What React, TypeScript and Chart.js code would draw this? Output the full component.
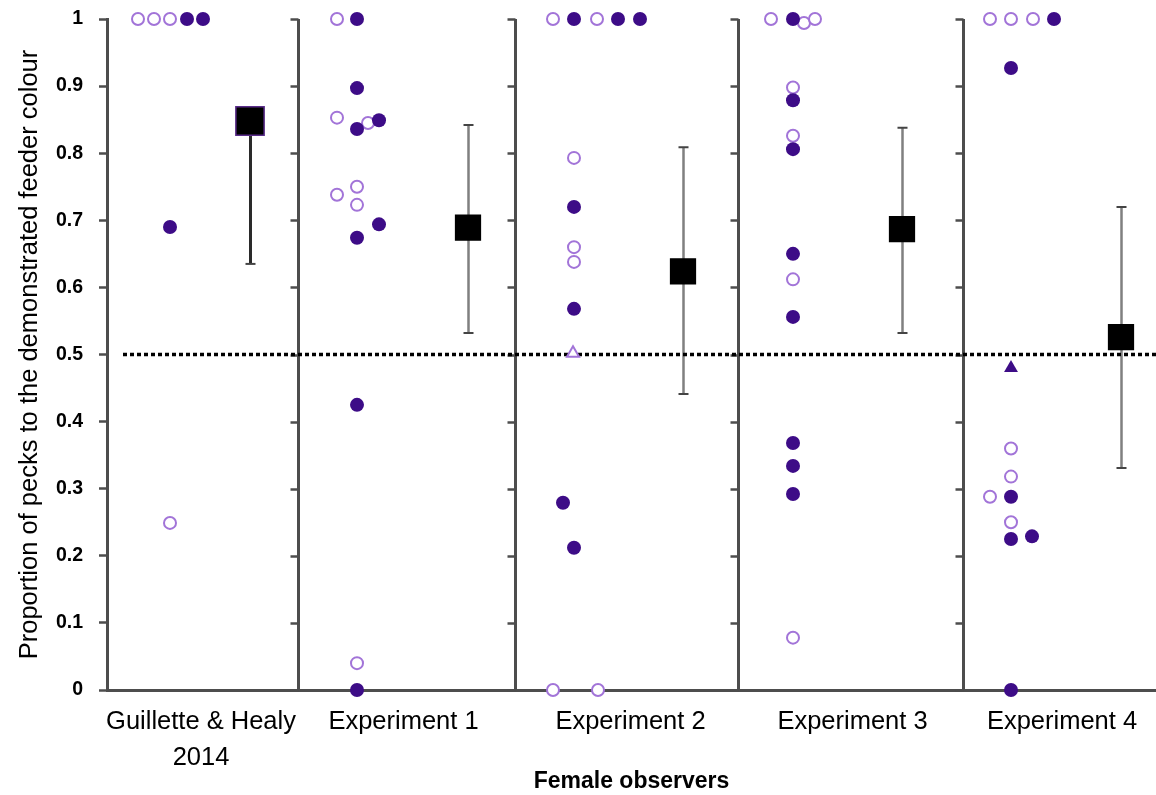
import React, { useEffect, useRef } from "react";
import { Chart, registerables } from "chart.js";

Chart.register(...registerables);

// ---- Data (x in layout units, y = proportion) ----
const groupLabels: (string | string[])[] = [
  ["Guillette & Healy", "2014"],
  "Experiment 1",
  "Experiment 2",
  "Experiment 3",
  "Experiment 4",
];
const groupLabelX = [0.94, 2.965, 5.235, 7.455, 9.55];
const dividerX = [1.91, 4.08, 6.31, 8.56];
const xMax = 10.49;
const yTickLabels = ["0", "0.1", "0.2", "0.3", "0.4", "0.5", "0.6", "0.7", "0.8", "0.9", "1"];

const openCircleX = [
  0.31, 0.47, 0.63, 0.63,
  2.3, 2.3, 2.61, 2.3, 2.5, 2.5, 2.5,
  4.46, 4.9, 4.67, 4.67, 4.67, 4.46, 4.91,
  6.64, 6.97, 7.08, 6.86, 6.86, 6.86, 6.86,
  8.83, 9.04, 9.26, 9.04, 9.04, 8.83, 9.04,
];
const openCircleY = [
  1, 1, 1, 0.249,
  1, 0.853, 0.845, 0.738, 0.75, 0.723, 0.04,
  1, 1, 0.793, 0.66, 0.638, 0, 0,
  1, 0.994, 1, 0.898, 0.826, 0.612, 0.078,
  1, 1, 1, 0.36, 0.318, 0.288, 0.25,
];
const filledCircleX = [
  0.8, 0.96, 0.63,
  2.5, 2.5, 2.5, 2.72, 2.72, 2.5, 2.5, 2.5,
  4.67, 5.11, 5.33, 4.67, 4.67, 4.56, 4.67,
  6.86, 6.86, 6.86, 6.86, 6.86, 6.86, 6.86, 6.86,
  9.47, 9.04, 9.04, 9.04, 9.25, 9.04,
];
const filledCircleY = [
  1, 1, 0.69,
  1, 0.897, 0.836, 0.849, 0.694, 0.674, 0.425, 0,
  1, 1, 1, 0.72, 0.568, 0.279, 0.212,
  1, 0.879, 0.806, 0.65, 0.556, 0.368, 0.334, 0.292,
  1, 0.927, 0.288, 0.225, 0.229, 0,
];
const openTriangleX = [4.66];
const openTriangleY = [0.502];
const filledTriangleX = [9.04];
const filledTriangleY = [0.48];

const meanX = [1.43, 3.61, 5.76, 7.95, 10.14];
const meanY = [0.848, 0.689, 0.624, 0.687, 0.526];
const errLow = [0.635, 0.532, 0.441, 0.532, 0.331];
const errHigh: (number | null)[] = [null, 0.842, 0.809, 0.838, 0.72];

const chanceLevel = 0.5;
const chanceStartX = 0.16;

// ---- Styles ----
const OPEN_COLOR = "#a274d8";
const FILLED_COLOR = "#3d0c87";
const AXIS_COLOR = "#4d4d4d";
const FONT = "'Liberation Sans', Arial, sans-serif";

const pts = (xs: number[], ys: number[]) => xs.map((x, i) => ({ x, y: ys[i] }));

const overlayPlugin = {
  id: "overlay",
  beforeDatasetsDraw(chart: any) {
    const { ctx } = chart;
    const x = chart.scales.x;
    const y = chart.scales.y;
    ctx.save();
    const top = y.getPixelForValue(1);
    const bottom = y.getPixelForValue(0);
    // group dividers with ticks
    dividerX.forEach((d) => {
      const px = Math.round(x.getPixelForValue(d)) + 0.5;
      ctx.strokeStyle = AXIS_COLOR;
      ctx.lineWidth = 3;
      ctx.beginPath();
      ctx.moveTo(px, top);
      ctx.lineTo(px, bottom);
      ctx.stroke();
      ctx.lineWidth = 2.5;
      y.ticks.forEach((t: any) => {
        const py = Math.round(y.getPixelForValue(t.value)) + 0.5;
        ctx.beginPath();
        ctx.moveTo(px - 8, py);
        ctx.lineTo(px, py);
        ctx.stroke();
      });
    });
    // error bars
    meanX.forEach((mx, i) => {
      const px = Math.round(x.getPixelForValue(mx)) + 0.5;
      const pm = y.getPixelForValue(meanY[i]);
      const pl = y.getPixelForValue(errLow[i]);
      const hi = errHigh[i];
      const first = i === 0;
      ctx.strokeStyle = first ? "#2a2a2a" : "#808080";
      ctx.lineWidth = first ? 3 : 2.5;
      ctx.beginPath();
      ctx.moveTo(px, pm);
      ctx.lineTo(px, pl);
      if (hi !== null) {
        ctx.moveTo(px, pm);
        ctx.lineTo(px, y.getPixelForValue(hi));
      }
      ctx.stroke();
      ctx.strokeStyle = "#444";
      ctx.lineWidth = 2;
      const capW = 5;
      ctx.beginPath();
      ctx.moveTo(px - capW, pl);
      ctx.lineTo(px + capW, pl);
      if (hi !== null) {
        const ph = y.getPixelForValue(hi);
        ctx.moveTo(px - capW, ph);
        ctx.lineTo(px + capW, ph);
      }
      ctx.stroke();
    });
    ctx.restore();
  },
};

export default function App() {
  const canvasRef = useRef<HTMLCanvasElement | null>(null);

  useEffect(() => {
    document.body.style.margin = "0";
    const canvas = canvasRef.current;
    if (!canvas) return;
    const chart = new Chart(canvas, {
      type: "scatter",
      data: {
        datasets: [
          {
            label: "mean",
            data: pts(meanX, meanY),
            pointStyle: "rect",
            pointRadius: [20, 17.5, 17.5, 17.5, 17.5],
            pointBackgroundColor: "#000",
            pointBorderColor: ["#5a2d8a", "#000", "#000", "#000", "#000"],
            pointBorderWidth: 1.5,
            showLine: false,
          },
          {
            label: "filled",
            data: pts(filledCircleX, filledCircleY),
            pointStyle: "circle",
            pointRadius: 7,
            pointBackgroundColor: FILLED_COLOR,
            pointBorderColor: FILLED_COLOR,
            pointBorderWidth: 0,
            showLine: false,
          },
          {
            label: "open",
            data: pts(openCircleX, openCircleY),
            pointStyle: "circle",
            pointRadius: 6,
            pointBackgroundColor: "#ffffff",
            pointBorderColor: OPEN_COLOR,
            pointBorderWidth: 2,
            showLine: false,
          },
          {
            label: "openTri",
            data: pts(openTriangleX, openTriangleY),
            pointStyle: "triangle",
            pointRadius: 7,
            pointBackgroundColor: "#ffffff",
            pointBorderColor: OPEN_COLOR,
            pointBorderWidth: 2,
            showLine: false,
          },
          {
            label: "filledTri",
            data: pts(filledTriangleX, filledTriangleY),
            pointStyle: "triangle",
            pointRadius: 8,
            pointBackgroundColor: FILLED_COLOR,
            pointBorderColor: FILLED_COLOR,
            pointBorderWidth: 0,
            showLine: false,
          },
          {
            label: "chance",
            type: "line",
            data: [
              { x: chanceStartX, y: chanceLevel },
              { x: xMax, y: chanceLevel },
            ],
            borderColor: "#000",
            borderWidth: 3.5,
            borderDash: [4, 3],
            pointRadius: 0,
            showLine: true,
          } as any,
        ],
      },
      options: {
        animation: false,
        responsive: false,
        maintainAspectRatio: false,
        layout: { autoPadding: false, padding: { top: 19, right: 0, left: 0, bottom: 0 } },
        plugins: {
          legend: { display: false },
          tooltip: { enabled: false },
        },
        elements: { point: { hoverRadius: 0 } },
        datasets: { scatter: { clip: false } as any, line: { clip: false } as any },
        scales: {
          x: {
            type: "linear",
            min: 0,
            max: xMax,
            afterFit: (s: any) => {
              s.height = 105;
              s.paddingLeft = 0;
              s.paddingRight = 0;
            },
            afterBuildTicks: (s: any) => {
              s.ticks = groupLabelX.map((v) => ({ value: v }));
            },
            grid: { display: false, drawTicks: false },
            border: { display: true, color: AXIS_COLOR, width: 3 },
            ticks: {
              autoSkip: false,
              maxRotation: 0,
              minRotation: 0,
              padding: 14,
              color: "#000",
              font: { family: FONT, size: 25.5, lineHeight: 1.42 },
              callback: (_v: any, i: number) => groupLabels[i] as any,
            },
            title: {
              display: true,
              text: "Female observers",
              color: "#000",
              font: { family: FONT, size: 23, weight: "bold" },
              padding: { top: 0, bottom: 0 },
            },
          },
          y: {
            type: "linear",
            min: 0,
            max: 1,
            afterFit: (s: any) => {
              s.width = 107;
              s.paddingTop = 0;
              s.paddingBottom = 0;
            },
            grid: {
              display: true,
              drawOnChartArea: false,
              drawTicks: true,
              tickLength: 8,
              tickColor: AXIS_COLOR,
              tickWidth: 2.5,
            },
            border: { display: true, color: AXIS_COLOR, width: 3 },
            ticks: {
              stepSize: 0.1,
              padding: 16,
              color: "#000",
              font: { family: FONT, size: 19.5, weight: "bold" },
              callback: (_v: any, i: number) => yTickLabels[i],
            },
            title: {
              display: true,
              text: "Proportion of pecks to the demonstrated feeder colour",
              color: "#000",
              font: { family: FONT, size: 25.5 },
              padding: { top: 15, bottom: 0 },
            },
          },
        },
      },
      plugins: [overlayPlugin],
    } as any);
    return () => chart.destroy();
  }, []);

  return (
    <div style={{ width: 1156, height: 795, background: "#fff" }}>
      <canvas ref={canvasRef} width={1156} height={795} style={{ display: "block" }} />
    </div>
  );
}
